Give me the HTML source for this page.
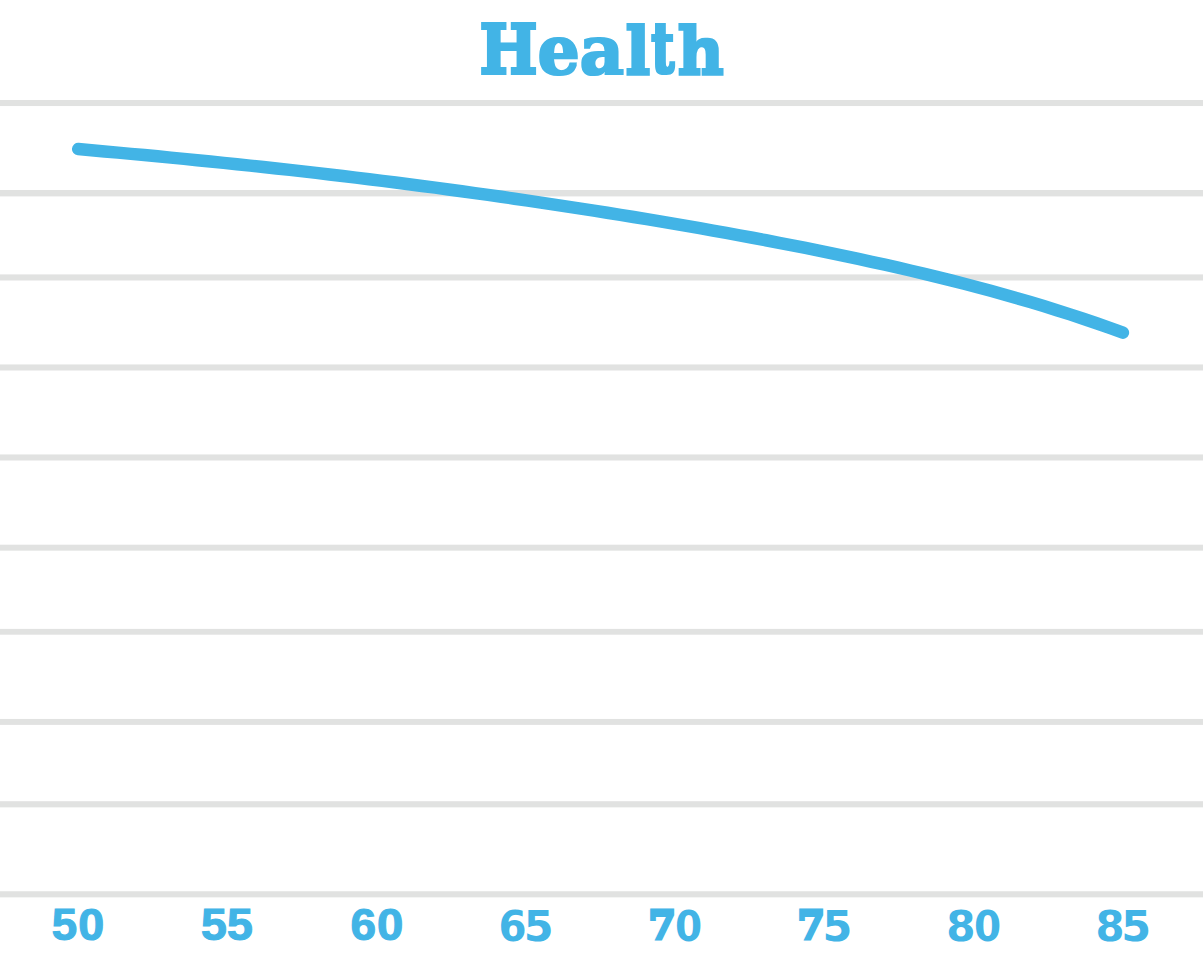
<!DOCTYPE html>
<html lang="en">
<head>
<meta charset="utf-8">
<title>Health</title>
<style>
html,body{margin:0;padding:0;background:#fff;}
body{width:1203px;height:963px;overflow:hidden;}
svg{display:block;}
.title{font-family:"DejaVu Serif","Liberation Serif",serif;font-weight:bold;fill:#42B4E6;}
.lab{font-weight:bold;fill:#42B4E6;stroke-linejoin:miter;}
.ls{font-family:"Liberation Sans",sans-serif;stroke:#42B4E6;}
.ds{font-family:"DejaVu Sans","Liberation Sans",sans-serif;}
.dr{font-family:"DejaVu Serif","Liberation Serif",serif;stroke:#42B4E6;}
</style>
</head>
<body>
<svg width="1203" height="963" viewBox="0 0 1203 963">
<defs>
<filter id="heavy" filterUnits="userSpaceOnUse" x="460" y="0" width="290" height="100">
<feMorphology in="SourceGraphic" operator="dilate" radius="1 2" x="460" y="0" width="78.1" height="100" result="m1"/>
<feMorphology in="SourceGraphic" operator="dilate" radius="1 1" x="538.1" y="0" width="87" height="100" result="m2"/>
<feMorphology in="SourceGraphic" operator="dilate" radius="1 2" x="625.1" y="0" width="124.9" height="100" result="m3"/>
<feMerge><feMergeNode in="m1"/><feMergeNode in="m2"/><feMergeNode in="m3"/></feMerge>
</filter>
</defs>
<rect width="1203" height="963" fill="#fff"/>
<g id="grid">
<rect x="0" y="100.00" width="1203" height="6.05" fill="#E1E2E1"/>
<rect x="0" y="190.00" width="1203" height="6.40" fill="#E1E2E1"/>
<rect x="0" y="274.40" width="1203" height="6.10" fill="#E1E2E1"/>
<rect x="0" y="364.45" width="1203" height="6.05" fill="#E1E2E1"/>
<rect x="0" y="454.45" width="1203" height="6.05" fill="#E1E2E1"/>
<rect x="0" y="544.70" width="1203" height="5.95" fill="#E1E2E1"/>
<rect x="0" y="628.90" width="1203" height="5.80" fill="#E1E2E1"/>
<rect x="0" y="718.95" width="1203" height="5.95" fill="#E1E2E1"/>
<rect x="0" y="801.20" width="1203" height="6.15" fill="#E1E2E1"/>
<rect x="0" y="891.25" width="1203" height="6.10" fill="#E1E2E1"/>
</g>
<path id="curve" d="M78.2,149.07 L91.4,150.26 L104.6,151.45 L117.9,152.65 L131.1,153.86 L144.3,155.09 L157.5,156.34 L170.8,157.60 L184.0,158.88 L197.2,160.18 L210.4,161.51 L223.7,162.85 L236.9,164.21 L250.1,165.60 L263.3,167.02 L276.6,168.45 L289.8,169.91 L303.0,171.40 L316.2,172.91 L329.5,174.45 L342.7,176.01 L355.9,177.60 L369.1,179.21 L382.4,180.85 L395.6,182.52 L408.8,184.21 L422.0,185.93 L435.2,187.67 L448.5,189.45 L461.7,191.24 L474.9,193.07 L488.1,194.92 L501.4,196.79 L514.6,198.69 L527.8,200.62 L541.0,202.58 L554.3,204.56 L567.5,206.57 L580.7,208.60 L593.9,210.66 L607.2,212.75 L620.4,214.87 L633.6,217.02 L646.8,219.19 L660.1,221.40 L673.3,223.64 L686.5,225.90 L699.7,228.21 L713.0,230.54 L726.2,232.91 L739.4,235.32 L752.6,237.76 L765.9,240.24 L779.1,242.77 L792.3,245.33 L805.5,247.95 L818.7,250.61 L832.0,253.31 L845.2,256.08 L858.4,258.89 L871.6,261.77 L884.9,264.70 L898.1,267.70 L911.3,270.77 L924.5,273.90 L937.8,277.12 L951.0,280.41 L964.2,283.78 L977.4,287.25 L990.7,290.80 L1003.9,294.46 L1017.1,298.22 L1030.3,302.08 L1043.6,306.06 L1056.8,310.17 L1070.0,314.39 L1083.2,318.76 L1096.5,323.26 L1109.7,327.91 L1122.9,332.71" fill="none" stroke="#42B4E6" stroke-width="12.5" stroke-linecap="round" stroke-linejoin="round"/>
<text class="title" filter="url(#heavy)"><tspan x="479.19" y="73.06" font-size="67.16" textLength="58.59" lengthAdjust="spacingAndGlyphs">H</tspan><tspan x="537.47" y="74.16" font-size="67.46" textLength="42.34" lengthAdjust="spacingAndGlyphs">e</tspan><tspan x="579.47" y="73.85" font-size="68.01" textLength="44.71" lengthAdjust="spacingAndGlyphs">a</tspan><tspan x="625.24" y="72.90" font-size="64.08" textLength="25.21" lengthAdjust="spacingAndGlyphs">l</tspan><tspan x="650.88" y="72.44" font-size="68.30" textLength="23.47" lengthAdjust="spacingAndGlyphs">t</tspan><tspan x="677.42" y="72.90" font-size="64.08" textLength="46.45" lengthAdjust="spacingAndGlyphs">h</tspan></text>
<g id="xlabels">
<text class="lab"><tspan class="ls" x="51.73" y="940.23" font-size="43.45" stroke-width="1.08" textLength="25.40" lengthAdjust="spacingAndGlyphs">5</tspan><tspan class="ls" x="78.39" y="940.43" font-size="44.24" stroke-width="1.08" textLength="25.99" lengthAdjust="spacingAndGlyphs">0</tspan></text>
<text class="lab"><tspan class="ls" x="201.11" y="940.23" font-size="43.45" stroke-width="1.08" textLength="25.85" lengthAdjust="spacingAndGlyphs">5</tspan><tspan class="ls" x="227.11" y="940.23" font-size="43.45" stroke-width="1.08" textLength="25.85" lengthAdjust="spacingAndGlyphs">5</tspan></text>
<text class="lab"><tspan class="ls" x="350.46" y="940.42" font-size="44.52" stroke-width="1.08" textLength="25.56" lengthAdjust="spacingAndGlyphs">6</tspan><tspan class="ls" x="377.06" y="940.42" font-size="44.52" stroke-width="1.08" textLength="26.34" lengthAdjust="spacingAndGlyphs">0</tspan></text>
<text class="lab"><tspan class="ds" x="498.50" y="940.79" font-size="43.16" textLength="28.07" lengthAdjust="spacingAndGlyphs">6</tspan><tspan class="ds" x="523.89" y="940.80" font-size="42.52" textLength="29.92" lengthAdjust="spacingAndGlyphs">5</tspan></text>
<text class="lab"><tspan class="dr" x="648.40" y="939.40" font-size="38.55" stroke-width="3.0" textLength="27.25" lengthAdjust="spacingAndGlyphs">7</tspan><tspan class="ds" x="675.03" y="940.98" font-size="43.36" textLength="27.14" lengthAdjust="spacingAndGlyphs">0</tspan></text>
<text class="lab"><tspan class="dr" x="797.60" y="939.40" font-size="38.55" stroke-width="3.0" textLength="27.25" lengthAdjust="spacingAndGlyphs">7</tspan><tspan class="ds" x="822.59" y="940.80" font-size="42.52" textLength="29.92" lengthAdjust="spacingAndGlyphs">5</tspan></text>
<text class="lab"><tspan class="ds" x="946.23" y="940.79" font-size="43.10" textLength="29.28" lengthAdjust="spacingAndGlyphs">8</tspan><tspan class="ds" x="973.93" y="940.79" font-size="43.10" textLength="27.14" lengthAdjust="spacingAndGlyphs">0</tspan></text>
<text class="lab"><tspan class="ds" x="1095.45" y="940.79" font-size="43.10" textLength="29.03" lengthAdjust="spacingAndGlyphs">8</tspan><tspan class="ds" x="1121.29" y="940.80" font-size="42.52" textLength="29.92" lengthAdjust="spacingAndGlyphs">5</tspan></text>
</g>
</svg>
</body>
</html>
